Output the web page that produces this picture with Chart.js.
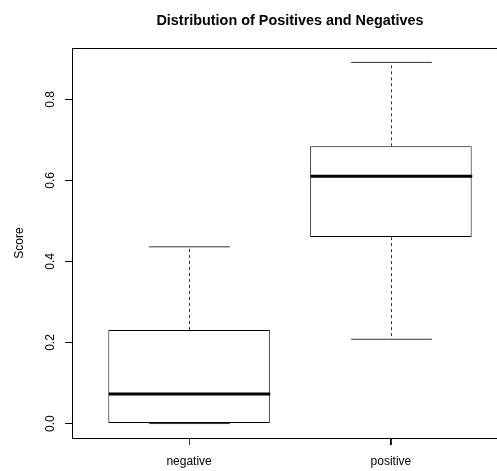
<!DOCTYPE html>
<html>
<head>
<meta charset="utf-8">
<script src="https://cdn.jsdelivr.net/npm/chart.js@4"></script>
<style>
html, body { margin: 0; padding: 0; background: #fff; overflow: hidden; }
</style>
</head>
<body>
<canvas id="boxchart" width="540" height="471"></canvas>
<script>
// values
var categories = ["negative", "positive"];
var whiskerLow = [0.000, 0.208];
var quartile1 = [0.000, 0.460];
var medians = [0.073, 0.610];
var quartile3 = [0.231, 0.684];
var whiskerHigh = [0.436, 0.891];
var yTicks = [0.0, 0.2, 0.4, 0.6, 0.8];

var fontFamily = "'Liberation Sans', Arial, Helvetica, sans-serif";

// R style limits: 4% extension of the data range
var dataMin = Math.min.apply(null, whiskerLow);
var dataMax = Math.max.apply(null, whiskerHigh);
var ext = (dataMax - dataMin) * 0.04;
var n = categories.length;

var boxData = categories.map(function(c, i) {
	return { x: i + 1, y: [quartile1[i], quartile3[i]] };
});

// whiskers, staples, medians, x tick marks and the frame
var boxParts = {
	id: "boxParts",
	afterDatasetsDraw: function(chart) {
		var ctx = chart.ctx;
		var xs = chart.scales.x, ys = chart.scales.y;
		var bars = chart.getDatasetMeta(0).data;
		var a = chart.chartArea;
		ctx.save();
		for (var i = 0; i < n; i++) {
			var cx = Math.round(xs.getPixelForValue(i + 1)) + 0.5;
			var capHalf = bars[i].width / 4;
			var yHi = ys.getPixelForValue(whiskerHigh[i]);
			var yLo = ys.getPixelForValue(whiskerLow[i]);

			ctx.lineWidth = 1;
			ctx.strokeStyle = "#333";
			ctx.setLineDash([3, 3]);
			ctx.beginPath();
			ctx.moveTo(cx, ys.getPixelForValue(quartile3[i]));
			ctx.lineTo(cx, yHi);
			ctx.moveTo(cx, ys.getPixelForValue(quartile1[i]));
			ctx.lineTo(cx, yLo);
			ctx.stroke();
			ctx.setLineDash([]);

			ctx.beginPath();
			ctx.moveTo(cx - capHalf, yHi);
			ctx.lineTo(cx + capHalf, yHi);
			ctx.moveTo(cx - capHalf, yLo);
			ctx.lineTo(cx + capHalf, yLo);
			// axis tick under each group
			ctx.moveTo(cx, Math.round(a.bottom));
			ctx.lineTo(cx, Math.round(a.bottom) + 7);
			ctx.stroke();

			ctx.strokeStyle = "#000";
			ctx.lineWidth = 3;
			var ym = ys.getPixelForValue(medians[i]);
			ctx.beginPath();
			ctx.moveTo(cx - bars[i].width / 2, ym);
			ctx.lineTo(cx + bars[i].width / 2, ym);
			ctx.stroke();
		}
		ctx.strokeStyle = "#000";
		ctx.lineWidth = 1;
		ctx.strokeRect(Math.round(a.left) + 0.5, Math.round(a.top) + 0.5,
			Math.round(a.right - a.left), Math.round(a.bottom - a.top));
		ctx.restore();
	}
};

var chart = new Chart(document.getElementById("boxchart"), {
	type: "bar",
	data: {
		datasets: [{
			data: boxData,
			backgroundColor: "#fff",
			borderColor: "#000",
			borderWidth: 1,
			borderSkipped: false,
			categoryPercentage: 1,
			barPercentage: 0.8
		}]
	},
	options: {
		responsive: false,
		animation: false,
		events: [],
		layout: { padding: { left: 0, right: 32, top: 0, bottom: 0 } },
		plugins: {
			legend: { display: false },
			tooltip: { enabled: false },
			title: {
				display: true,
				text: "Distribution of Positives and Negatives",
				fullSize: false,
				color: "#000",
				font: { family: fontFamily, size: 14.4, weight: "bold" },
				padding: { top: 12, bottom: 18.7 }
			}
		},
		scales: {
			x: {
				type: "linear",
				min: 0.5 - 0.04 * n,
				max: n + 0.5 + 0.04 * n,
				offset: false,
				afterBuildTicks: function(s) {
					s.ticks = categories.map(function(c, i) { return { value: i + 1 }; });
				},
				afterFit: function(s) { s.height = 33; },
				border: { display: false },
				grid: { offset: false, drawOnChartArea: false, tickLength: 7, color: "#000", tickColor: "#000" },
				ticks: {
					color: "#000",
					padding: 9,
					maxRotation: 0,
					autoSkip: false,
					font: { family: fontFamily, size: 12 },
					callback: function(v) { return categories[v - 1]; }
				}
			},
			y: {
				min: dataMin - ext,
				max: dataMax + ext,
				afterBuildTicks: function(s) {
					s.ticks = yTicks.map(function(v) { return { value: v }; });
				},
				afterFit: function(s) { s.width = 72; },
				border: { display: false },
				grid: { drawOnChartArea: false, tickLength: 7, color: "#000" },
				title: {
					display: true,
					text: "Score",
					color: "#000",
					font: { family: fontFamily, size: 12 },
					padding: { top: 12, bottom: 0 }
				},
				ticks: {
					color: "#000",
					padding: 6,
					minRotation: 90,
					maxRotation: 90,
					crossAlign: "center",
					font: { family: fontFamily, size: 12 },
					callback: function(v) { return v.toFixed(1); }
				}
			}
		}
	},
	plugins: [boxParts]
});
</script>
</body>
</html>
